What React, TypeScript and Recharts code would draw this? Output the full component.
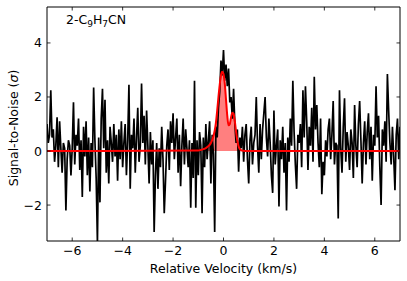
import React from "react";
import { ComposedChart, Line, Area, XAxis, YAxis } from "recharts";

// channel grid of the spectrum
const V_START = -7;
const V_STEP = 0.05;

// signal-to-noise per channel (-7 .. 7 km/s)
const snr = [
  1.0, 0.3, 0.6, 2.25, 0.5, 0.8, -0.4, 0.2, 1.25, -0.6, 1.1, 0.1, -0.8, 0.3, 0.1, -2.2, -0.3, 0.4, 0.2, -0.9,
  0.1, 1.8, -0.5, 0.6, 0.2, 1.2, -0.7, 0.4, -1.7, 0.9, -0.2, 1.1, -0.9, 0.5, -1.5, 0.3, -0.6, 2.35, 0.4, -1.0,
  -3.4, 0.5, -1.9, 1.2, 2.3, 0.1, 1.9, -0.8, 0.4, -1.2, 0.9, 0.3, -0.4, 1.0, -0.2, 0.6, -1.1, 0.8, -0.3, 1.1,
  -0.6, 0.3, 1.0, -0.9, 0.4, 2.45, -1.4, 0.6, 0.1, 1.2, -0.8, 0.5, 1.6, -0.4, 0.2, 2.5, 0.3, 1.3, -0.5, 1.5,
  0.2, -1.2, 0.7, -0.5, 0.4, -3.0, -0.9, 0.3, -1.4, 0.1, -0.6, 0.9, -0.3, -2.3, -1.1, 0.2, 0.8, -0.7, 1.1, 0.3,
  1.4, -0.3, 0.5, 1.2, -0.8, 0.6, -1.3, 0.2, 1.2, -0.5, 0.8, 0.1, -0.6, 0.4, -2.1, 0.3, -1.0, 2.6, -2.1, 0.4,
  -0.9, 0.7, 0.2, -2.3, 0.5, -0.6, 1.0, -0.3, 0.4, 1.1, -1.2, 0.6, -0.1, -3.0, 0.9, 0.5, 1.6, 2.2, 3.35, 2.8,
  3.74, 2.6, 3.2, 2.4, 3.05, 1.8, 2.0, 1.2, 2.3, 1.0, 0.3, 0.8, -0.77, 0.5, 0.1, 0.9, -0.4, 0.6, 1.0, -0.3,
  -1.2, 0.4, 0.9, -0.5, 0.3, 0.6, 2.0, 0.2, -0.8, 1.0, -0.3, 0.8, 1.4, 2.0, 0.5, -0.2, 1.2, 0.3, -0.9, -1.55,
  1.5, -0.5, 0.2, 0.8, -2.05, 0.4, -0.3, 0.9, -0.8, 0.3, -2.2, 0.5, -0.4, 1.2, 0.2, 2.6, 0.7, -0.5, -1.4, 0.6,
  0.3, 1.0, -0.6, 2.25, 0.5, 2.4, 1.1, -0.7, 0.9, 0.2, 1.6, -0.4, 2.75, 0.8, 1.7, 0.3, -0.6, 1.2, -1.6, -0.4,
  -0.9, 0.4, -0.2, 0.8, 1.2, -0.3, 0.6, 1.85, -0.5, 0.3, 0.2, -2.5, 2.25, 0.1, -0.8, 0.9, 1.95, -0.4, 0.7, 0.2,
  -0.7, 0.8, 0.3, -1.0, 1.7, 0.2, -0.6, 1.0, 1.85, 0.4, -1.2, 0.3, 1.1, -0.5, 0.7, 1.4, -0.3, 0.9, -1.1, 0.6,
  0.2, 2.4, 0.5, 1.3, -0.6, -2.0, 0.8, 0.2, 1.1, -0.4, 2.85, 1.5, 0.3, -0.5, 0.9, -0.2, -1.45, 0.6, 1.2, -0.3, 0.9,
];

// fitted model (red)
const modelV = [
  -7, -1.0, -0.9, -0.8, -0.7, -0.6, -0.5, -0.45, -0.4, -0.35, -0.3, -0.25, -0.2, -0.15, -0.1, -0.05, 0,
  0.05, 0.1, 0.15, 0.2, 0.25, 0.3, 0.35, 0.4, 0.45, 0.5, 0.55, 0.6, 0.65, 0.7, 0.8, 0.9, 7,
];
const modelY = [
  0, 0.02, 0.04, 0.07, 0.11, 0.18, 0.3, 0.4, 0.55, 0.75, 1.05, 1.5, 2.0, 2.45, 2.8, 2.93, 2.85,
  2.5, 1.9, 1.3, 0.95, 1.0, 1.25, 1.42, 1.38, 1.1, 0.7, 0.38, 0.17, 0.07, 0.03, 0.01, 0, 0,
];

const xTicks = [-6, -4, -2, 0, 2, 4, 6];
const yTicks = [-2, 0, 2, 4];
const xDomain = [-7, 7];
const yDomain = [-3.33, 5.33];

const spectrum = snr.map((s, i) => ({ v: +(V_START + i * V_STEP).toFixed(2), s }));
const model = modelV.map((v, i) => ({ v, m: modelY[i] }));

const FONT = "DejaVu Sans, sans-serif";
const fmt = (n: number) => (n < 0 ? `\u2212${Math.abs(n)}` : String(n));

function BottomTick({ x, y, payload }: any) {
  return (
    <g>
      <line x1={x} x2={x} y1={y} y2={y - 3.5} stroke="#000" strokeWidth={0.8} />
      <text x={x} y={y + 14} textAnchor="middle" fontSize={12.5} fontFamily={FONT} fill="#000">
        {fmt(payload.value)}
      </text>
    </g>
  );
}

function TopTick({ x, y }: any) {
  return <line x1={x} x2={x} y1={y} y2={y + 3.5} stroke="#000" strokeWidth={0.8} />;
}

function LeftTick({ x, y, payload }: any) {
  return (
    <g>
      <line x1={x} x2={x + 3.5} y1={y} y2={y} stroke="#000" strokeWidth={0.8} />
      <text x={x - 5} y={y} dy="0.36em" textAnchor="end" fontSize={12.5} fontFamily={FONT} fill="#000">
        {fmt(payload.value)}
      </text>
    </g>
  );
}

function RightTick({ x, y }: any) {
  return <line x1={x} x2={x - 3.5} y1={y} y2={y} stroke="#000" strokeWidth={0.8} />;
}

export default function App() {
  return (
    <div style={{ position: "absolute", left: 0, top: 0, width: 407, height: 281, background: "#fff" }}>
      <ComposedChart width={407} height={281} margin={{ top: 0, right: 0, bottom: 0, left: 0 }}>
        <XAxis
          xAxisId="bottom"
          type="number"
          dataKey="v"
          domain={xDomain}
          ticks={xTicks}
          allowDataOverflow
          height={40}
          tickSize={0}
          tickMargin={0}
          tickLine={false}
          axisLine={{ stroke: "#000", strokeWidth: 1 }}
          tick={<BottomTick />}
        />
        <XAxis
          xAxisId="top"
          orientation="top"
          type="number"
          dataKey="v"
          domain={xDomain}
          ticks={xTicks}
          allowDataOverflow
          height={7}
          tickSize={0}
          tickMargin={0}
          tickLine={false}
          axisLine={{ stroke: "#000", strokeWidth: 1 }}
          tick={<TopTick />}
        />
        <YAxis
          yAxisId="left"
          type="number"
          domain={yDomain}
          ticks={yTicks}
          allowDataOverflow
          width={47}
          tickSize={0}
          tickMargin={0}
          tickLine={false}
          axisLine={{ stroke: "#000", strokeWidth: 1 }}
          tick={<LeftTick />}
        />
        <YAxis
          yAxisId="right"
          orientation="right"
          type="number"
          domain={yDomain}
          ticks={yTicks}
          allowDataOverflow
          width={7}
          tickSize={0}
          tickMargin={0}
          tickLine={false}
          axisLine={{ stroke: "#000", strokeWidth: 1 }}
          tick={<RightTick />}
        />
        <Area
          xAxisId="bottom"
          yAxisId="left"
          data={model}
          dataKey="m"
          type="monotone"
          baseValue={0}
          stroke="none"
          fill="#ff0000"
          fillOpacity={0.5}
          dot={false}
          activeDot={false}
          isAnimationActive={false}
        />
        <Line
          xAxisId="bottom"
          yAxisId="left"
          data={spectrum}
          dataKey="s"
          type="linear"
          stroke="#000"
          strokeWidth={1.7}
          dot={false}
          isAnimationActive={false}
        />
        <Line
          xAxisId="bottom"
          yAxisId="left"
          data={model}
          dataKey="m"
          type="monotone"
          stroke="#ff0000"
          strokeWidth={2}
          dot={false}
          activeDot={false}
          isAnimationActive={false}
        />
      </ComposedChart>
      <svg
        width={407}
        height={281}
        style={{ position: "absolute", left: 0, top: 0, pointerEvents: "none" }}
        fontFamily={FONT}
        fontSize={12.5}
      >
        <text x={66} y={24} fill="#000">
          2-C<tspan fontSize={9} dy={2.5}>9</tspan>
          <tspan dy={-2.5}>H</tspan>
          <tspan fontSize={9} dy={2.5}>7</tspan>
          <tspan dy={-2.5}>CN</tspan>
        </text>
        <text x={223.5} y={273} textAnchor="middle" fill="#000">
          Relative Velocity (km/s)
        </text>
        <text transform="translate(18,128) rotate(-90)" textAnchor="middle" fill="#000">
          Signal-to-Noise (<tspan fontStyle="italic">σ</tspan>)
        </text>
      </svg>
    </div>
  );
}
